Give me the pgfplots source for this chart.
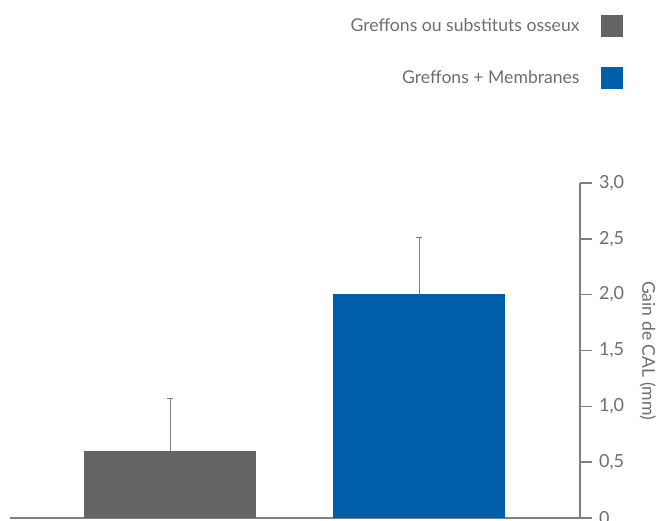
\documentclass[border=0pt]{standalone}
\usepackage{pgfplots}
\pgfplotsset{compat=1.18}
\usepackage{fontspec}
\setmainfont{Lato}
\definecolor{bargray}{HTML}{646466}
\definecolor{barblue}{HTML}{005EAA}
\definecolor{txtgray}{HTML}{6D6E70}
\definecolor{axgray}{HTML}{7F7F7F}
\begin{document}
\begin{tikzpicture}
\begin{axis}[
  at={(5pt,1.5pt)}, anchor=south west,
  scale only axis, width=285pt, height=167.5pt,
  xmin=-0.6426, xmax=1.6466, ymin=0, ymax=3,
  axis x line*=bottom, axis y line*=right,
  axis line style={-, axgray, line width=0.7pt},
  xtick=\empty,
  ytick={0,0.5,1,1.5,2,2.5,3},
  yticklabels={0,{0,5},{1,0},{1,5},{2,0},{2,5},{3,0}},
  tick align=outside, major tick length=6pt,
  tick style={axgray, line width=0.7pt},
  /pgf/number format/assume math mode=true,
  yticklabel style={font=\fontsize{9}{10}\selectfont, text=txtgray, anchor=west},
  ylabel={Gain de CAL (mm)},
  every axis y label/.style={at={(axis description cs:1,0.5)}, anchor=center, xshift=34pt, rotate=-90, font=\fontsize{8.8}{10}\selectfont, text=txtgray},
  legend plot pos=right,
  legend cell align=right,
  legend style={at={(axis description cs:1.0754,1.5015)}, anchor=north east, draw=none, fill=none, inner sep=0pt, column sep=10.5pt, row sep=15pt, font=\fontsize{8.8}{10}\selectfont, text=txtgray, nodes={inner sep=0pt}},
  legend image code/.code={\fill[#1] (0pt,-5.5pt) rectangle (11pt,5.5pt);},
  error bars/y dir=plus, error bars/y explicit,
  error bars/error bar style={axgray, line width=0.5pt},
  error bars/error mark options={axgray, line width=0.5pt, mark size=1.5pt, rotate=90},
]
\addplot[ybar, bar width=86pt, bar shift=0pt, fill=bargray, draw=none] coordinates {(0,0.6) +- (0,0.47)};
\addlegendentry{Greffons ou substituts osseux}
\addplot[ybar, bar width=86pt, bar shift=0pt, fill=barblue, draw=none] coordinates {(1,2.01) +- (0,0.5)};
\addlegendentry{Greffons + Membranes}
\end{axis}
\pgfresetboundingbox
\useasboundingbox (0,0) rectangle (330.5pt,260.5pt);
\end{tikzpicture}
\end{document}
